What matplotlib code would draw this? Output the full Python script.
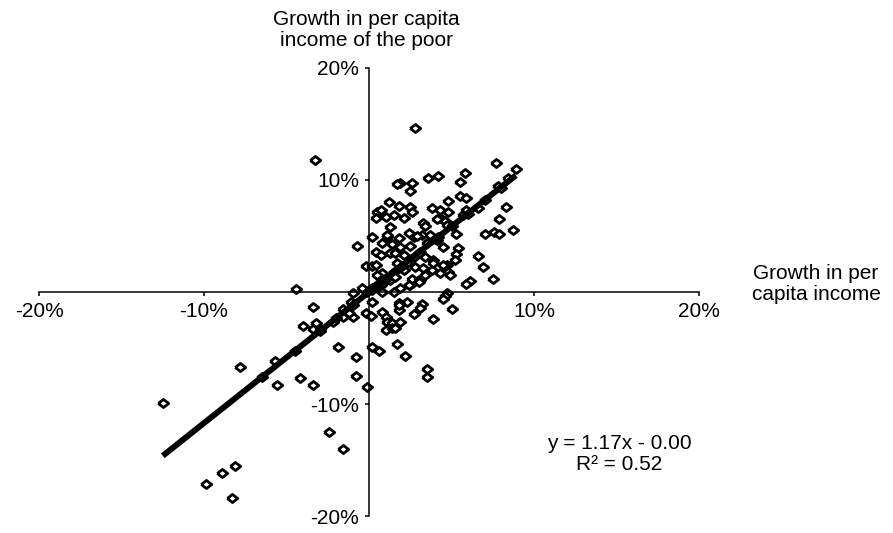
import numpy as np
import matplotlib.pyplot as plt
from matplotlib import font_manager

# growth in per capita income (x) vs growth of the poor (y), in percent
growth_mean = [
    -3.3, -0.7, -4.4, 0.2, 0.5, 0.4, 2.8, 7.7, 8.9, 8.4, 7.8, 5.8, 4.2, 3.6, 2.6, 1.9, 1.7, 2.5, 5.5, 5.5,
    5.9, 4.8, 1.2, 1.8, 2.5, 3.8, 4.3, 4.8, 5.9, 6.6, 8.3, 0.7, 1.0, 1.5, 2.1, 2.6, 4.3, 4.6, 3.3, 3.4,
    1.3, 7.9, 8.7, 7.6, 7.9, 7.0, 5.3, 1.1, 1.8, 2.7, 3.2, 3.7, 4.2, 0.8, 1.4, 1.9, 2.5, 0.4, 0.7, 1.3,
    2.1, 2.7, 3.4, 3.9, 5.4, 5.3, 5.2, 6.6, 6.9, 4.7, 4.8, 4.9, 3.1, 6.1, 5.9, 7.5, -0.2, 0.2, 1.7, 2.1,
    1.5, 0.8, 0.7, 1.3, 1.9, 0.2, -0.1, 2.5, 3.8, 4.3, 3.4, 4.7, 4.6, -0.4, -3.4, -1.1, -1.6, -2.2, -1.6, -1.0,
    -3.2, -4.0, -3.4, -3.0, -0.2, 0.1, 0.2, -1.9, -0.8, 0.2, 0.6, -5.7, -7.8, -5.6, -4.2, -3.4, -0.8, -0.1, -2.4, -1.6,
    -8.1, -8.9, -9.9, -8.3, -12.5, 4.5, 5.0, 3.9, 3.2, 3.1, 2.7, 2.3, 1.8, 1.8, 0.8, 1.0, 1.1, 1.4, 1.9, 1.0,
    1.4, 1.6, 1.7, 2.2, 3.5, 3.5, -1.2, 1.8, 4.1, 1.1, 2.4, 2.9, 4.1, 3.5, 1.6, 3.1, 0.4, 2.3, 2.8, 3.3,
    3.9, 0.5, 1.6, 2.6, 3.0, 0.8, 2.4, 0.2, 0.8, 1.5, -1.0, 4.7, 5.7, 4.5, 4.5, 0.7, 3.0,
    0.5, 1.0, 2.0, 3.0, 4.0, 5.0, 6.0, 7.0, 8.0, -1.0, -2.0, -3.0, -4.5, -6.5,
]
growth_poor = [
    11.8, 4.1, 0.3, 4.9, 7.1, 6.6, 14.6, 11.5, 11.0, 10.2, 9.5, 10.6, 10.4, 10.2, 9.7, 9.7, 9.6, 9.0, 9.8, 8.6,
    8.4, 8.1, 8.0, 7.7, 7.6, 7.5, 7.3, 7.1, 7.3, 7.5, 7.6, 7.3, 6.7, 6.9, 6.6, 7.1, 6.6, 6.3, 6.2, 5.9,
    5.8, 6.5, 5.5, 5.4, 5.2, 5.2, 5.2, 4.9, 4.8, 4.9, 5.1, 5.1, 4.9, 4.4, 4.3, 4.0, 4.1, 3.6, 3.3, 3.5,
    3.3, 3.1, 3.1, 2.9, 3.9, 3.4, 2.9, 3.2, 2.2, 2.4, 1.8, 1.5, 1.1, 1.0, 0.7, 1.2, 2.3, 2.3, 2.6, 2.0,
    1.8, 1.7, 0.9, 1.1, 0.4, 0.4, 0.0, 0.6, 2.0, 1.7, 1.5, -0.1, -0.4, 0.4, -1.3, -0.9, -1.5, -2.7, -2.2, -2.2,
    -2.8, -3.0, -3.3, -3.3, -1.9, -2.1, -0.9, -4.9, -5.8, -4.9, -5.3, -6.2, -6.7, -8.3, -7.7, -8.3, -7.5, -8.5, -12.5, -14.0,
    -15.5, -16.2, -17.1, -18.4, -9.9, -0.6, -1.5, -2.4, -1.1, -1.4, -2.0, -0.9, -1.0, -1.6, -1.8, -2.2, -2.7, -2.8, -2.7, -3.4,
    -3.2, -3.2, -4.6, -5.7, -6.9, -7.6, -1.9, -1.2, 6.5, 5.1, 5.3, 5.0, 4.6, 4.4, 3.5, 3.6, 2.4, 2.6, 2.2, 2.1,
    2.6, 1.5, 1.3, 1.2, 1.1, 0.8, 0.6, 0.2, 0.0, 0.0, -0.1, 6.0, 6.9, 2.4, 4.0, 0.6, 0.9,
    0.6, 1.2, 2.3, 3.5, 4.7, 5.9, 7.0, 8.2, 9.3, -1.2, -2.3, -3.5, -5.3, -7.6,
]
slope = 1.17
intercept = 0.00
r2 = 0.52

names = [f.name for f in font_manager.fontManager.ttflist]
family = 'Liberation Sans' if 'Liberation Sans' in names else 'DejaVu Sans'
plt.rcParams['font.family'] = family
fs = 15

fig = plt.figure(figsize=(8.93, 5.33), dpi=100)
ax = fig.add_axes([39 / 893, 17 / 533, 660 / 893, 448 / 533])

x = np.array(growth_mean)
y = np.array(growth_poor)

# hollow diamond markers, a bit wider than tall, heavy outline
diamond = [(-1, 0), (0, 0.78), (1, 0), (0, -0.78), (-1, 0)]
ax.plot(x, y, linestyle='none', marker=diamond, markersize=7.5,
        markerfacecolor='white', markeredgecolor='black', markeredgewidth=2.0, zorder=2)

# fitted line over the data range
xs = np.array([x.min(), x.max()])
ax.plot(xs, slope * xs + intercept, color='black', linewidth=4.3, solid_capstyle='butt', zorder=3)

ax.set_xlim(-20, 20)
ax.set_ylim(-20, 20)
ax.spines['left'].set_position(('data', 0))
ax.spines['bottom'].set_position(('data', 0))
ax.spines['right'].set_visible(False)
ax.spines['top'].set_visible(False)
for s in ['left', 'bottom']:
    ax.spines[s].set_linewidth(1.1)

ticks = [-20, -10, 10, 20]
ax.set_xticks(ticks)
ax.set_xticklabels([f'{t}%' for t in ticks], fontsize=fs)
ax.set_yticks(ticks)
ax.set_yticklabels([f'{t}%' for t in ticks], fontsize=fs)
ax.tick_params(direction='out', length=3, width=1.1, pad=4)
ax.patch.set_visible(False)

fig.text(366 / 893, 1 - 30 / 533, 'Growth in per capita\nincome of the poor',
         ha='center', va='center', fontsize=fs, linespacing=1.15)
fig.text(816 / 893, 1 - 284 / 533, 'Growth in per\ncapita income',
         ha='center', va='center', fontsize=fs, linespacing=1.15)
fig.text(619 / 893, 1 - 454 / 533, f'y = {slope:.2f}x - {abs(intercept):.2f}\nR² = {r2:.2f}',
         ha='center', va='center', fontsize=fs, linespacing=1.1)

fig.savefig('out.png', dpi=100)
